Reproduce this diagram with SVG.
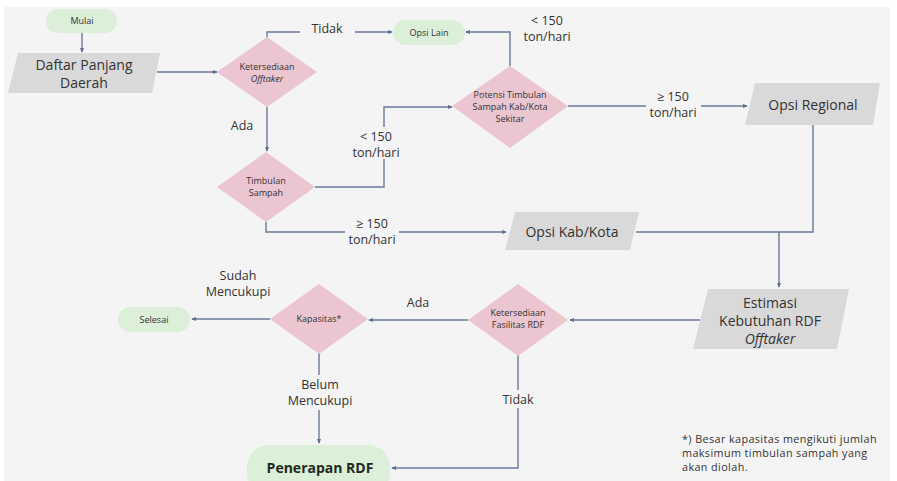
<svg xmlns="http://www.w3.org/2000/svg" width="897" height="481" viewBox="0 0 897 481">
<defs>
<marker id="ah" viewBox="0 0 6 6" refX="5" refY="3" markerWidth="5" markerHeight="5" orient="auto" markerUnits="userSpaceOnUse">
<path d="M0,0.5 L6,3 L0,5.5 z" fill="#5e6f8f"/>
</marker>
<style>
text{font-family:"Open Sans","Liberation Sans",sans-serif;fill:#333;text-anchor:middle}
.pill{fill:#dcefd8}
.dia{fill:#ebc6d1}
.par{fill:#d9d9d9}
.big{font-size:14px}
.lbl{font-size:12.5px}
.dt{font-size:9px}
.pt{font-size:9px}
.con{fill:none;stroke:#6a7a98;stroke-width:1.4}
.bg{fill:#f4f4f4}
.it{font-style:italic}
.fn{font-size:10.8px;letter-spacing:0.4px;text-anchor:start}
</style>
</defs>
<rect x="0" y="0" width="897" height="481" fill="#ffffff"/>
<rect x="4" y="7" width="886" height="474" fill="#f4f4f4"/>

<g id="connectors">
<path class="con" d="M82,33 V52" marker-end="url(#ah)"/>
<path class="con" d="M157,72 H217" marker-end="url(#ah)"/>
<path class="con" d="M267,37 V32 H392" marker-end="url(#ah)"/>
<path class="con" d="M510,66 V32 H466" marker-end="url(#ah)"/>
<path class="con" d="M267,107 V151" marker-end="url(#ah)"/>
<path class="con" d="M315,187 H384 V107 H452" marker-end="url(#ah)"/>
<path class="con" d="M266,222 V232 H506" marker-end="url(#ah)"/>
<path class="con" d="M568,106 H747" marker-end="url(#ah)"/>
<path class="con" d="M813,125 V232 H636"/>
<path class="con" d="M779,232 V287" marker-end="url(#ah)"/>
<path class="con" d="M700,320 H570" marker-end="url(#ah)"/>
<path class="con" d="M468,320 H369" marker-end="url(#ah)"/>
<path class="con" d="M270,319 H192" marker-end="url(#ah)"/>
<path class="con" d="M319,353 V443" marker-end="url(#ah)"/>
<path class="con" d="M518,355 V468 H392" marker-end="url(#ah)"/>
</g>

<g id="labels">
<rect class="bg" x="300" y="20" width="55" height="18"/>
<text class="lbl" x="327" y="33">Tidak</text>
<text class="lbl" x="547" y="25">&lt; 150</text>
<text class="lbl" x="547" y="41">ton/hari</text>
<text class="lbl" x="242" y="130">Ada</text>
<rect class="bg" x="350" y="127" width="52" height="32"/>
<text class="lbl" x="376" y="141">&lt; 150</text>
<text class="lbl" x="376" y="157">ton/hari</text>
<rect class="bg" x="345" y="215" width="54" height="32"/>
<text class="lbl" x="372" y="228">≥ 150</text>
<text class="lbl" x="372" y="244">ton/hari</text>
<rect class="bg" x="646" y="88" width="55" height="33"/>
<text class="lbl" x="673" y="101">≥ 150</text>
<text class="lbl" x="673" y="117">ton/hari</text>
<text class="lbl" x="418" y="307">Ada</text>
<text class="lbl" x="238" y="280">Sudah</text>
<text class="lbl" x="238" y="296">Mencukupi</text>
<rect class="bg" x="288" y="375" width="64" height="35"/>
<text class="lbl" x="320" y="389">Belum</text>
<text class="lbl" x="320" y="405">Mencukupi</text>
<rect class="bg" x="500" y="390" width="36" height="18"/>
<text class="lbl" x="518" y="404">Tidak</text>
</g>

<g id="mulai">
<rect class="pill" x="46" y="9" width="71" height="24" rx="12"/>
<text class="pt" x="82" y="24">Mulai</text>
</g>
<g id="daftar">
<polygon class="par" points="18,53 160,53 152,93 8,93"/>
<text class="big" x="84" y="70">Daftar Panjang</text>
<text class="big" x="84" y="88">Daerah</text>
</g>
<g id="ketersediaan-offtaker">
<polygon class="dia" points="267,37 317,72 267,107 217,72"/>
<text class="dt" x="267" y="70">Ketersediaan</text>
<text class="dt it" x="267" y="82">Offtaker</text>
</g>
<g id="opsi-lain">
<rect class="pill" x="393" y="20" width="72" height="25" rx="12.5"/>
<text class="pt" x="429" y="36">Opsi Lain</text>
</g>
<g id="potensi">
<polygon class="dia" points="510,66 568,106 510,148 452,106"/>
<text class="dt" x="510" y="98">Potensi Timbulan</text>
<text class="dt" x="510" y="110">Sampah Kab/Kota</text>
<text class="dt" x="510" y="122">Sekitar</text>
</g>
<g id="opsi-regional">
<polygon class="par" points="755,83 880,83 873,125 745,125"/>
<text class="big" x="813" y="110">Opsi Regional</text>
</g>
<g id="timbulan">
<polygon class="dia" points="266,152 315,187 266,222 217,187"/>
<text class="dt" x="266" y="184">Timbulan</text>
<text class="dt" x="266" y="196">Sampah</text>
</g>
<g id="opsi-kab">
<polygon class="par" points="515,212 639,212 630,250 505,250"/>
<text class="big" x="572" y="237">Opsi Kab/Kota</text>
</g>
<g id="estimasi">
<polygon class="par" points="708,289 849,289 837,349 693,349"/>
<text class="big" x="770" y="308">Estimasi</text>
<text class="big" x="770" y="326">Kebutuhan RDF</text>
<text class="big it" x="770" y="344">Offtaker</text>
</g>
<g id="fasilitas">
<polygon class="dia" points="518,284 568,320 518,356 468,320"/>
<text class="dt" x="518" y="316">Ketersediaan</text>
<text class="dt" x="518" y="328">Fasilitas RDF</text>
</g>
<g id="kapasitas">
<polygon class="dia" points="319,284 368,319 319,354 270,319"/>
<text class="dt" x="319" y="322">Kapasitas*</text>
</g>
<g id="selesai">
<rect class="pill" x="118" y="307" width="72" height="25" rx="12.5"/>
<text class="pt" x="154" y="323">Selesai</text>
</g>
<g id="penerapan">
<rect class="pill" x="247" y="445" width="143" height="50" rx="22"/>
<text x="320" y="473" style="font-size:14px;font-weight:bold;fill:#1d2a1d">Penerapan RDF</text>
</g>
<g id="footnote">
<text class="fn" x="682" y="443">*) Besar kapasitas mengikuti jumlah</text>
<text class="fn" x="682" y="457">maksimum timbulan sampah yang</text>
<text class="fn" x="682" y="471">akan diolah.</text>
</g>
</svg>
